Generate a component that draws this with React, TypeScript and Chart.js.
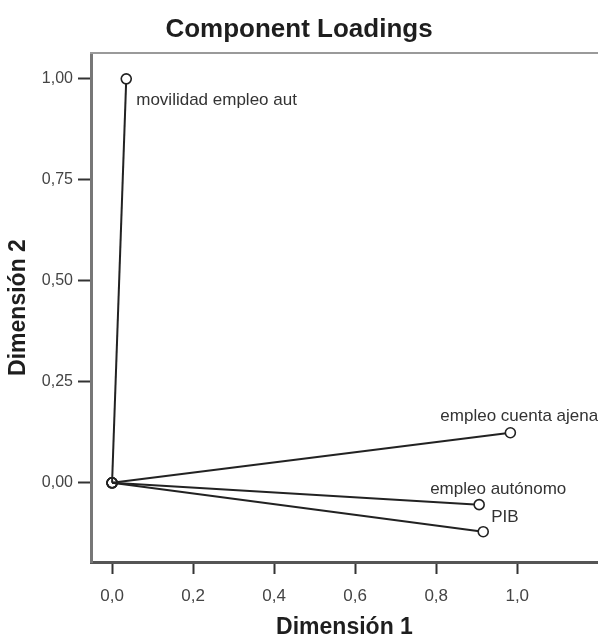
import { useEffect, useRef } from 'react';
import { Chart, registerables } from 'chart.js';

Chart.register(...registerables);

// ---- data ----
const variables = ['movilidad empleo aut', 'empleo cuenta ajena', 'empleo autónomo', 'PIB'];
const dimension1 = [0.035, 0.983, 0.906, 0.916];
const dimension2 = [1.0, 0.124, -0.054, -0.121];
const xTicks = [0, 0.2, 0.4, 0.6, 0.8, 1.0];
const yTicks = [0, 0.25, 0.5, 0.75, 1.0];
const chartTitle = 'Component Loadings';
const xTitle = 'Dimensión 1';
const yTitle = 'Dimensión 2';

const FONT = "'Liberation Sans', Arial, Helvetica, sans-serif";
const labelOffsets: [number, number][] = [
  [10, 26],
  [-70, -12],
  [-49, -11],
  [8, -10],
];

const annotations = {
  id: 'annotations',
  beforeDatasetsDraw(chart: any) {
    const { ctx, chartArea } = chart;
    ctx.save();
    ctx.strokeStyle = '#9a9a9a';
    ctx.lineWidth = 2;
    ctx.beginPath();
    ctx.moveTo(chartArea.left - 1, Math.round(chartArea.top));
    ctx.lineTo(chart.width, Math.round(chartArea.top));
    ctx.stroke();
    ctx.restore();
  },
  afterDatasetsDraw(chart: any) {
    const { ctx, chartArea } = chart;
    const xs = chart.scales.x;
    const ys = chart.scales.y;
    ctx.save();
    // extend frame bottom edge to the canvas edge
    const by = Math.round(chartArea.bottom) + 0.5;
    ctx.strokeStyle = '#555';
    ctx.lineWidth = 3;
    ctx.beginPath();
    ctx.moveTo(chartArea.right - 2, by);
    ctx.lineTo(chart.width, by);
    ctx.stroke();

    ctx.font = `17px ${FONT}`;
    ctx.fillStyle = '#333';
    ctx.textAlign = 'left';
    ctx.textBaseline = 'alphabetic';
    variables.forEach((name, i) => {
      const px = xs.getPixelForValue(dimension1[i]);
      const py = ys.getPixelForValue(dimension2[i]);
      const [dx, dy] = labelOffsets[i];
      ctx.fillText(name, px + dx, py + dy);
    });
    ctx.restore();
  },
  afterDraw(chart: any) {
    const { ctx, chartArea } = chart;
    ctx.save();
    ctx.fillStyle = '#1e1e1e';
    ctx.textAlign = 'center';
    ctx.textBaseline = 'alphabetic';
    ctx.font = `bold 26px ${FONT}`;
    ctx.fillText(chartTitle, chart.width / 2, 37);
    ctx.font = `bold 23px ${FONT}`;
    ctx.fillText(xTitle, (chartArea.left + chart.width) / 2, 634);
    ctx.translate(25, (chartArea.top + chartArea.bottom) / 2);
    ctx.rotate(-Math.PI / 2);
    ctx.fillText(yTitle, 0, 0);
    ctx.restore();
  },
};

export default function App() {
  const ref = useRef<HTMLCanvasElement | null>(null);

  useEffect(() => {
    if (!ref.current) return;
    const datasets = variables.map((name, i) => ({
      label: name,
      data: [
        { x: 0, y: 0 },
        { x: dimension1[i], y: dimension2[i] },
      ],
      showLine: true,
      borderColor: '#222',
      borderWidth: 2,
      pointRadius: 5,
      pointBorderWidth: 1.6,
      pointBorderColor: '#222',
      pointBackgroundColor: ['rgba(0,0,0,0)', '#ffffff'],
    }));

    const chart = new Chart(ref.current, {
      type: 'scatter',
      data: { datasets },
      options: {
        responsive: false,
        animation: false,
        layout: { padding: { top: 53, left: 0, right: 0, bottom: 0 } },
        plugins: {
          legend: { display: false },
          tooltip: { enabled: false },
          title: { display: false },
        },
        scales: {
          x: {
            type: 'linear',
            min: -0.052,
            max: 1.183,
            afterBuildTicks: (scale: any) => {
              scale.ticks = xTicks.map((v) => ({ value: v }));
            },
            afterFit: (scale: any) => {
              scale.height = 74;
            },
            ticks: {
              font: { family: FONT, size: 17 },
              color: '#444',
              padding: 12,
              callback: (v: any) => Number(v).toFixed(1).replace('.', ','),
            },
            grid: {
              display: true,
              drawOnChartArea: false,
              drawTicks: true,
              tickLength: 12,
              tickColor: '#333',
              tickWidth: 2,
            },
            border: { display: true, color: '#555', width: 3 },
          },
          y: {
            type: 'linear',
            min: -0.196,
            max: 1.064,
            afterBuildTicks: (scale: any) => {
              scale.ticks = yTicks.map((v) => ({ value: v }));
            },
            afterFit: (scale: any) => {
              scale.width = 91;
            },
            ticks: {
              font: { family: FONT, size: 16 },
              color: '#444',
              padding: 5,
              callback: (v: any) => Number(v).toFixed(2).replace('.', ','),
            },
            grid: {
              display: true,
              drawOnChartArea: false,
              drawTicks: true,
              tickLength: 13,
              tickColor: '#333',
              tickWidth: 2,
            },
            border: { display: true, color: '#777', width: 3 },
          },
        },
      },
      plugins: [annotations],
    });
    return () => chart.destroy();
  }, []);

  return (
    <div style={{ position: 'fixed', left: 0, top: 0, width: 598, height: 636, overflow: 'hidden', background: '#fff' }}>
      <canvas ref={ref} width={598} height={636} style={{ display: 'block', width: 598, height: 636 }} />
    </div>
  );
}
